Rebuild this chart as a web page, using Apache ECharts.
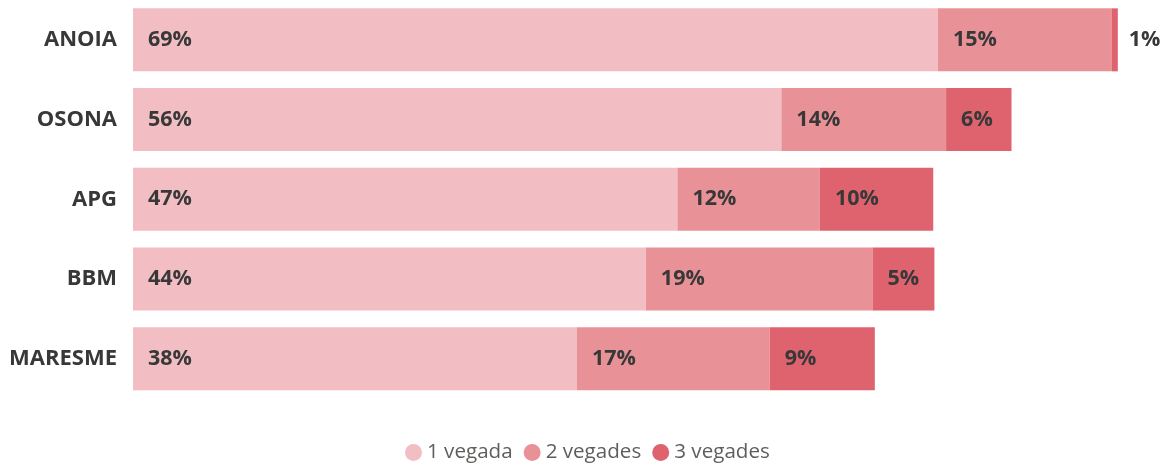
<!DOCTYPE html>
<html>
<head>
<meta charset="utf-8">
<script src="https://cdn.jsdelivr.net/npm/echarts@6/dist/echarts.min.js"></script>
<style>html,body{margin:0;padding:0;background:#fff;}#c{width:1167px;height:466px;}</style>
</head>
<body>
<div id="c"></div>
<script>
const categories = ['ANOIA', 'OSONA', 'APG', 'BBM', 'MARESME'];
const seriesNames = ['1 vegada', '2 vegades', '3 vegades'];
const vegada1 = [68.9, 55.5, 46.6, 43.9, 38.0];
const vegades2 = [14.9, 14.1, 12.2, 19.4, 16.5];
const vegades3 = [0.5, 5.6, 9.7, 5.3, 9.0];
const colors = ['#F2BDC3', '#E89298', '#DE636E'];

const chart = echarts.init(document.getElementById('c'));
const fontFam = '"Open Sans", "Noto Sans", sans-serif';
const labelStyle = {
  show: true,
  position: 'insideLeft',
  distance: 15,
  color: '#383838',
  fontFamily: fontFam,
  fontWeight: 'bold',
  fontSize: 21.5,
  formatter: p => Math.round(p.value) + '%'
};
function mk(name, data, color, idx) {
  return {
    name: name,
    type: 'bar',
    stack: 'total',
    barWidth: 63,
    itemStyle: { color: color },
    label: labelStyle,
    data: data.map((v, i) => {
      const d = { value: v };
      if (idx === 2 && v < 2) {
        d.label = { position: 'right', distance: 11 };
      }
      return d;
    })
  };
}
chart.setOption({
  animation: false,
  color: colors,
  grid: { left: 133, right: 41, top: -2, bottom: 67.5, containLabel: false },
  xAxis: { type: 'value', min: 0, max: 85, show: false },
  yAxis: {
    type: 'category',
    data: categories,
    inverse: true,
    axisLine: { show: false },
    axisTick: { show: false },
    axisLabel: { margin: 16, color: '#383838', fontFamily: fontFam, fontWeight: 'bold', fontSize: 22 }
  },
  legend: {
    bottom: -2,
    left: 400,
    icon: 'circle',
    itemWidth: 17,
    itemHeight: 17,
    itemGap: 11,
    textStyle: { color: '#605E5C', fontFamily: fontFam, fontSize: 20.6 },
    data: seriesNames
  },
  series: [
    mk(seriesNames[0], vegada1, colors[0], 0),
    mk(seriesNames[1], vegades2, colors[1], 1),
    mk(seriesNames[2], vegades3, colors[2], 2)
  ]
});
</script>
</body>
</html>
